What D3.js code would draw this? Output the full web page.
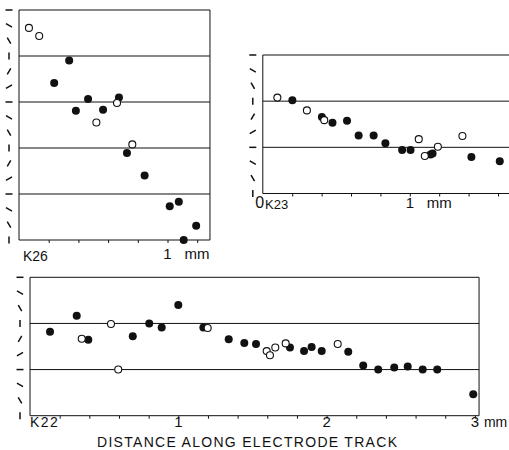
<!DOCTYPE html>
<html>
<head>
<meta charset="utf-8">
<script src="https://cdn.jsdelivr.net/npm/d3@7"></script>
<style>
body { margin: 0; background: #fff; }
text { font-family: "Liberation Sans", Arial, sans-serif; fill: #111; }
</style>
</head>
<body>
<svg id="chart" width="509" height="450"></svg>
<script>
// distance along electrode track (mm), receptive field orientation (deg, cumulative)
const k26Filled = [[0.338,-99],[0.237,-143],[0.465,-174],[0.383,-197],[0.566,-195],[0.673,-171],
    [0.727,-280],[0.846,-324],[1.015,-384],[1.076,-375],[1.109,-450],[1.193,-422]];
const k26Open = [[0.067,-35],[0.136,-51],[0.660,-182],[0.521,-220],[0.763,-263]];

const k23Filled = [[0.201,-88],[0.402,-121],[0.474,-132],[0.573,-128],[0.652,-157],[0.754,-157],
    [0.834,-172],[0.948,-185],[1.005,-185],[1.141,-194],[1.155,-192],[1.419,-199],[1.612,-207]];
const k23Open = [[0.099,-83],[0.300,-108],[0.418,-127],[1.061,-164],[1.102,-197],[1.191,-179],[1.358,-158]];

const k22Filled = [[0.135,-106],[0.315,-75],[0.393,-122],[0.693,-115],[0.804,-90],[0.888,-98],
    [1.0,-54],[1.169,-98],[1.340,-121],[1.445,-128],[1.524,-130],[1.753,-137],[1.848,-144],
    [1.899,-136],[1.967,-144],[2.146,-145],[2.247,-172],[2.348,-180],[2.456,-176],[2.547,-174],
    [2.648,-180],[2.746,-180],[2.989,-228]];
const k22Open = [[0.349,-120],[0.546,-91],[0.595,-180],[1.198,-99],[1.596,-144],[1.618,-152],
    [1.654,-137],[1.724,-129],[2.075,-130]];

const k26Ticks = [0.2,0.4,0.6,0.8,1.0,1.2];
const k23Ticks = [0.2,0.4,0.6,0.8,1.0,1.2,1.4,1.6];
const k22Ticks = d3.range(1,16).map(d => d / 5);

const svg = d3.select("#chart");
const ink = "#111";

function drawPanel(p) {
    const x = d3.scaleLinear().domain([0, p.xMax]).range([p.left, p.left + p.xMax * p.pxmm]);
    const y = d3.scaleLinear().domain([0, p.yMin]).range([p.top, p.bottom]);
    const g = svg.append("g");
    const x0 = x(0), x1 = x(p.xMax);

    // frame
    g.append("line").attr("x1",x0).attr("x2",x1).attr("y1",y(0)).attr("y2",y(0)).attr("stroke",ink);
    g.append("line").attr("x1",x0).attr("x2",x1).attr("y1",y(p.yMin)).attr("y2",y(p.yMin)).attr("stroke",ink);
    g.append("line").attr("x1",x0).attr("x2",x0).attr("y1",y(0)).attr("y2",y(p.yMin)).attr("stroke",ink);
    if (p.rightBorder) {
        g.append("line").attr("x1",x1).attr("x2",x1).attr("y1",y(0)).attr("y2",y(p.yMin)).attr("stroke",ink);
    }
    // 90 deg lines
    g.selectAll(".grid").data(d3.range(-90, p.yMin, -90)).enter().append("line")
        .attr("x1",x0).attr("x2",x1).attr("y1",d => y(d)).attr("y2",d => y(d))
        .attr("stroke",ink).attr("stroke-width",1);

    // orientation marks on the left
    g.selectAll(".ori").data(d3.range(0, p.yMin - 1, -30)).enter().append("line")
        .attr("x1", d => x0 - 10 - 3.5 * Math.cos(d * Math.PI / 180))
        .attr("x2", d => x0 - 10 + 3.5 * Math.cos(d * Math.PI / 180))
        .attr("y1", d => y(d) + 3.5 * Math.sin(d * Math.PI / 180))
        .attr("y2", d => y(d) - 3.5 * Math.sin(d * Math.PI / 180))
        .attr("stroke",ink).attr("stroke-width",1.5);

    // distance ticks
    const ax = g.append("g").attr("transform","translate(0," + y(p.yMin) + ")")
        .call(d3.axisBottom(x).tickValues(p.ticks).tickSize(3).tickFormat(""));
    ax.select(".domain").remove();
    ax.selectAll("line").attr("stroke",ink);

    g.selectAll(".filled").data(p.filled).enter().append("circle")
        .attr("cx", d => x(d[0])).attr("cy", d => y(d[1])).attr("r",4).attr("fill",ink);
    g.selectAll(".open").data(p.open).enter().append("circle")
        .attr("cx", d => x(d[0])).attr("cy", d => y(d[1])).attr("r",3.5)
        .attr("fill","#fff").attr("stroke",ink).attr("stroke-width",1.1);
    return {x: x, y: y};
}

// K26
const s1 = drawPanel({left:19, top:10, bottom:240, pxmm:148.5, xMax:1.286, yMin:-450,
    rightBorder:true, ticks:k26Ticks, filled:k26Filled, open:k26Open});
svg.append("text").attr("x",23).attr("y",261).attr("font-size",14).text("K26");
svg.append("text").attr("x",s1.x(1)).attr("y",259).attr("font-size",15).attr("text-anchor","middle").text("1");
svg.append("text").attr("x",s1.x(1) + 17).attr("y",259).attr("font-size",15).text("mm");

// K23
const s2 = drawPanel({left:262.8, top:55, bottom:193.5, pxmm:147, xMax:1.70, yMin:-270,
    rightBorder:false, ticks:k23Ticks, filled:k23Filled, open:k23Open});
svg.append("text").attr("x",s2.x(0) - 3).attr("y",208).attr("font-size",16).attr("text-anchor","middle").text("0");
svg.append("text").attr("x",265).attr("y",209).attr("font-size",13).text("K23");
svg.append("text").attr("x",s2.x(1)).attr("y",208).attr("font-size",15).attr("text-anchor","middle").text("1");
svg.append("text").attr("x",s2.x(1) + 17).attr("y",208).attr("font-size",15).text("mm");

// K22
const s3 = drawPanel({left:30, top:277.3, bottom:415.7, pxmm:148.3, xMax:3.028, yMin:-270,
    rightBorder:true, ticks:k22Ticks, filled:k22Filled, open:k22Open});
svg.append("text").attr("x",30).attr("y",427).attr("font-size",14).attr("letter-spacing",1.5).text("K22");
[1, 2, 3].forEach(v => {
    svg.append("text").attr("x",s3.x(v)).attr("y",427).attr("font-size",15).attr("text-anchor","middle").text(v);
});
svg.append("text").attr("x",s3.x(3) + 9).attr("y",427).attr("font-size",14).text("mm");
svg.append("text").attr("x",97).attr("y",447).attr("font-size",14)
    .attr("textLength",300).attr("lengthAdjust","spacing").text("DISTANCE ALONG ELECTRODE TRACK");
</script>
</body>
</html>
